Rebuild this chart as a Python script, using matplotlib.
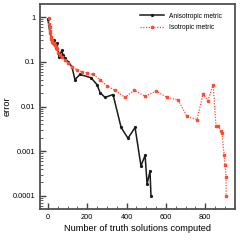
import matplotlib
matplotlib.use("Agg")
import matplotlib.pyplot as plt
from matplotlib.ticker import MultipleLocator, LogLocator, NullFormatter

plt.rcParams['font.family'] = ['Liberation Sans', 'DejaVu Sans']

aniso_x = [0, 10, 20, 31, 41, 46, 56, 71, 76, 87, 102, 122, 137, 163, 219, 249, 265, 290, 331,
           372, 407, 443, 473, 494, 504, 519, 524]
aniso_y = [0.9, 0.45, 0.31, 0.31, 0.2, 0.26, 0.13, 0.18, 0.14, 0.12, 0.1, 0.078, 0.04, 0.052, 0.044,
           0.031, 0.0205, 0.016, 0.0185, 0.0034, 0.00195, 0.0034, 0.00047, 0.00081, 0.000185,
           0.00036, 0.0001]

iso_x = [3, 6, 8, 10, 12, 15, 18, 20, 23, 25, 30, 36, 41, 46, 51, 61, 71, 87, 102, 122, 148, 173,
         198, 229, 265, 300, 341, 392, 438, 494, 550, 606, 662, 707, 758, 789, 814, 840, 855, 865,
         880, 885, 896, 901, 906, 906]
iso_y = [0.95, 0.7, 0.6, 0.5, 0.44, 0.36, 0.33, 0.31, 0.28, 0.26, 0.25, 0.24, 0.21, 0.19, 0.16,
         0.14, 0.13, 0.11, 0.095, 0.077, 0.066, 0.06, 0.057, 0.052, 0.04, 0.029, 0.023, 0.016,
         0.023, 0.017, 0.022, 0.016, 0.014, 0.006, 0.0051, 0.019, 0.0136, 0.031, 0.0036, 0.0036,
         0.0029, 0.0025, 0.00081, 0.00049, 0.00026, 0.0001]

y_ticks = [1, 0.1, 0.01, 0.001, 0.0001]
y_tick_labels = ["1", "0.1", "0.01", "0.001", "0.0001"]
x_ticks = [0, 200, 400, 600, 800]

fig = plt.figure(figsize=(2.4, 2.4), dpi=100)
ax = fig.add_axes([0.167, 0.129, 0.812, 0.854])

ax.plot(aniso_x, aniso_y, color='#1a1a1a', lw=1.1, marker='o', ms=1.3, label='Anisotropic metric')
ax.plot(iso_x, iso_y, color='#ff4a30', lw=0.9, ls=(0, (1, 1.2)), marker='s', ms=1.5,
        label='Isotropic metric')

ax.set_yscale('log')
ax.set_xlim(-40, 951)
ax.set_ylim(5.1e-5, 1.95)
ax.set_yticks(y_ticks)
ax.set_yticklabels(y_tick_labels)
ax.yaxis.set_minor_locator(LogLocator(base=10, subs=range(2, 10)))
ax.yaxis.set_minor_formatter(NullFormatter())
ax.set_xticks(x_ticks)
ax.xaxis.set_minor_locator(MultipleLocator(50))

ax.tick_params(which='both', direction='in', top=False, right=False, labelsize=5.3,
               color='#444444', pad=3.5)
ax.tick_params(which='major', length=4, width=1)
ax.tick_params(which='minor', length=2, width=0.6)
for s in ax.spines.values():
    s.set_color('#505050')
    s.set_linewidth(1.3)

ax.set_xlabel('Number of truth solutions computed', fontsize=6.7, labelpad=2.5)
ax.set_ylabel('error', fontsize=6.7)
ax.yaxis.set_label_coords(-0.148, 0.5)

leg = ax.legend(loc='upper right', frameon=False, fontsize=4.8, handlelength=3.6,
                borderaxespad=0.9, labelspacing=0.7, handletextpad=0.7,
                bbox_to_anchor=(0.975, 1.0))

fig.savefig('out.png', dpi=100)
